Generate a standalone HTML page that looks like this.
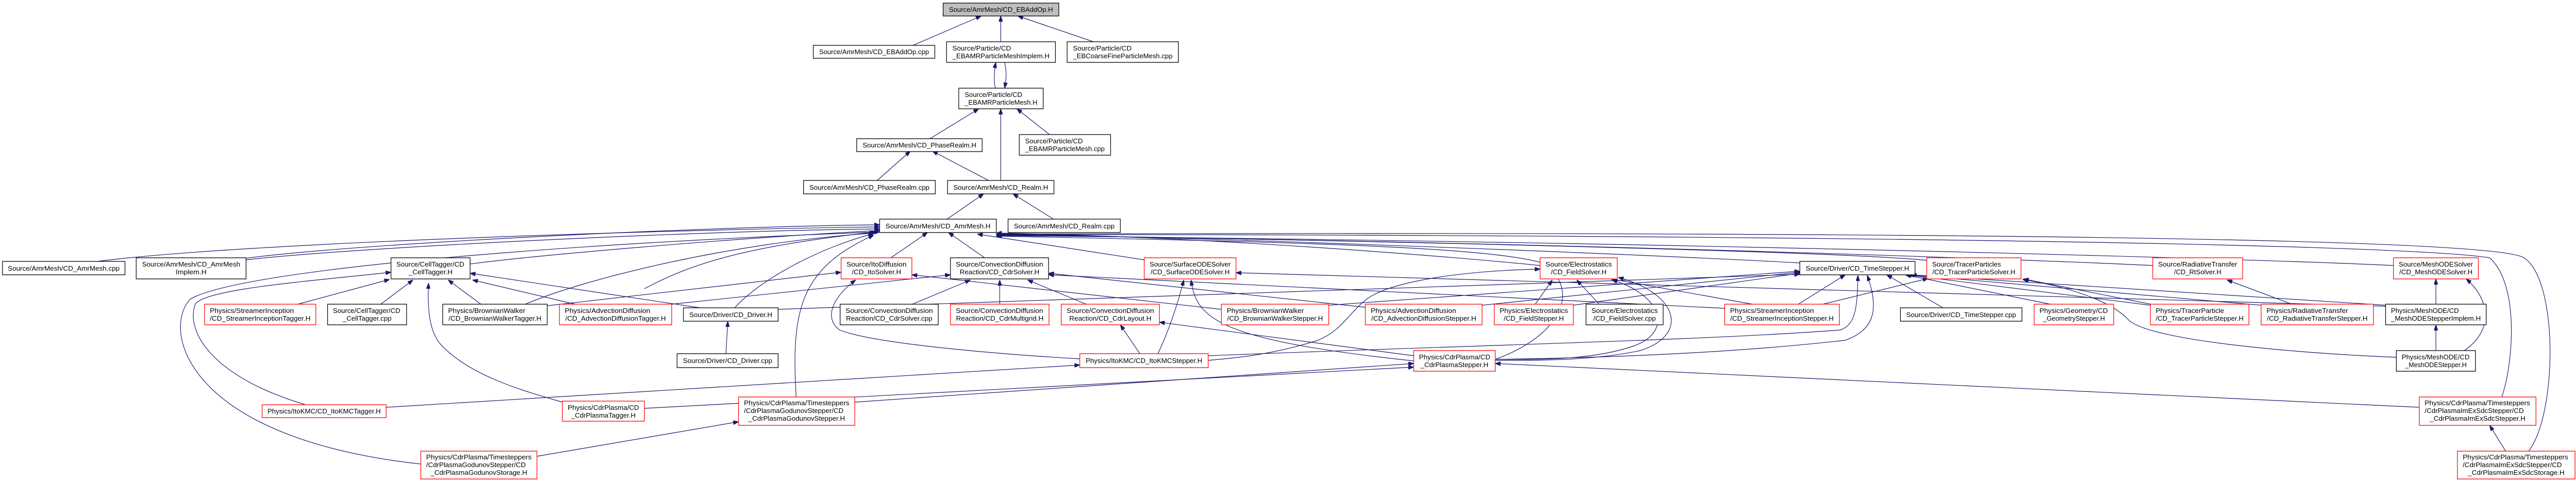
<!DOCTYPE html>
<html><head><meta charset="utf-8">
<style>
html,body{margin:0;padding:0;background:#fff;overflow:hidden;width:100%;height:100%;}
svg{display:block;width:100vw;height:100vh;}
text{font-family:"Liberation Sans",sans-serif;font-size:13px;fill:#000;}
.e{fill:none;stroke:#191970;stroke-width:1.2;marker-start:url(#ah);}
.b{fill:#fff;stroke:#000;stroke-width:1.3;}
.r{fill:#fff;stroke:#ff0000;stroke-width:1.3;}
.g{fill:#bfbfbf;stroke:#000;stroke-width:1.3;}
</style></head>
<body>
<svg viewBox="0 0 5277 931" preserveAspectRatio="none" xmlns="http://www.w3.org/2000/svg">
<defs>
<marker id="ah" markerUnits="userSpaceOnUse" markerWidth="11" markerHeight="8" refX="11" refY="4" orient="auto-start-reverse">
<path d="M0,0 L11,4 L0,8 z" fill="#191970" stroke="#191970"/>
</marker>
</defs>

<g>
<path class="e" d="M2010,31 L1870,88"/>
<path class="e" d="M2050,31 L2050,81"/>
<path class="e" d="M2085,31 L2240,81"/>
<path class="e" d="M2040,121 C2036,140 2036,160 2039,171"/>
<path class="e" d="M2058,171 C2062,150 2062,140 2058,121"/>
<path class="e" d="M2005,211 L1905,269"/>
<path class="e" d="M2050,211 L2050,350"/>
<path class="e" d="M2083,211 L2150,261"/>
<path class="e" d="M1865,293 L1797,350"/>
<path class="e" d="M1910,293 L2025,350"/>
<path class="e" d="M2015,376 L1940,425"/>
<path class="e" d="M2075,376 L2158,425"/>

<path class="e" d="M1802,440 C1400,445 500,470 200,507"/>
<path class="e" d="M1802,436 C1400,440 700,475 504,501"/>
<path class="e" d="M1802,444 C1400,448 700,482 504,504"/>
<path class="e" d="M1802,447 C1500,462 1100,495 963,512"/>
<path class="e" d="M1900,451 L1825,500"/>
<path class="e" d="M1943,451 L2017,500"/>
<path class="e" d="M2002,454 L2344,504"/>
<path class="e" d="M1790,453 C1680,480 1560,540 1505,597"/>
<path class="e" d="M1790,456 C1640,520 1620,600 1631,770"/>
<path class="e" d="M1802,450 C1200,470 500,520 390,580 C330,640 380,850 862,900"/>
<path class="e" d="M1792,452 C1500,470 1200,540 1076,590"/>
<path class="e" d="M1794,450 C1500,480 1400,520 1320,560"/>
<path class="e" d="M2041,452 C2500,460 3000,500 3155,515"/>
<path class="e" d="M2041,453 C2800,470 3500,500 3687,510"/>
<path class="e" d="M2041,455 C3000,470 3800,490 3947,505"/>
<path class="e" d="M2041,456 C3200,470 4200,505 4410,515"/>
<path class="e" d="M2041,457 C3500,470 4700,505 4903,515"/>
<path class="e" d="M2041,455 C3500,455 4900,470 5100,500 C5160,550 5150,700 5125,770"/>
<path class="e" d="M2041,454 C3500,450 5100,455 5170,500 C5240,540 5240,800 5180,875"/>
<path class="e" d="M2041,458 C2700,470 3050,480 3160,510 C3240,560 3200,650 3063,697"/>

<path class="e" d="M798,542 L610,590"/>
<path class="e" d="M846,543 L780,590"/>
<path class="e" d="M918,543 L985,590"/>
<path class="e" d="M968,543 L1178,590"/>
<path class="e" d="M878,549 C875,600 880,640 900,665 C960,730 1080,760 1152,780"/>
<path class="e" d="M801,528 C640,545 420,560 400,590 C380,640 430,730 626,785"/>
<path class="e" d="M963,530 L1434,597"/>
<path class="e" d="M1491,623 L1487,686"/>

<path class="e" d="M1868,533 L2502,600"/>
<path class="e" d="M1753,543 C1700,580 1690,620 1720,640 C1800,670 2100,690 2212,696"/>
<path class="e" d="M1723,528 L1121,593"/>

<path class="e" d="M1988,543 L1869,590"/>
<path class="e" d="M2048,543 L2048,590"/>
<path class="e" d="M2105,543 L2225,590"/>
<path class="e" d="M2148,530 L2797,596"/>
<path class="e" d="M2148,533 L3533,598"/>
<path class="e" d="M1947,533 L1376,590"/>
<path class="e" d="M2295,630 L2335,686"/>
<path class="e" d="M2375,625 L2896,690"/>

<path class="e" d="M2425,543 C2410,600 2390,650 2372,686"/>
<path class="e" d="M2440,543 C2450,620 2500,660 2896,700"/>
<path class="e" d="M2532,529 L4887,594"/>

<path class="e" d="M3180,543 L3145,590"/>
<path class="e" d="M3230,543 L3276,590"/>
<path class="e" d="M3300,541 L3590,590"/>
<path class="e" d="M3302,543 C3400,570 3430,640 3350,670 C3260,700 3150,697 3063,697"/>
<path class="e" d="M3315,538 C3440,570 3460,650 3360,680 C3260,700 3150,699 3063,699"/>
<path class="e" d="M3155,522 C3000,525 2850,545 2800,580 C2760,610 2750,640 2700,660 C2600,690 2520,695 2475,699"/>

<path class="e" d="M3780,533 L3684,590"/>
<path class="e" d="M3865,533 L3980,597"/>
<path class="e" d="M3903,533 L4200,590"/>
<path class="e" d="M3905,533 L4405,592"/>
<path class="e" d="M3910,533 L4632,592"/>
<path class="e" d="M3915,533 L4887,592"/>
<path class="e" d="M3687,526 L2722,592"/>
<path class="e" d="M3687,528 L3036,592"/>
<path class="e" d="M3687,530 L3223,592"/>
<path class="e" d="M3687,532 L1594,600"/>
<path class="e" d="M3806,534 C3805,600 3800,630 3770,640 C3500,660 3000,670 2475,690"/>
<path class="e" d="M3825,534 C3850,600 3840,640 3780,660 C3500,690 3200,695 3063,697"/>
<path class="e" d="M3950,540 L3734,590"/>

<path class="e" d="M4145,541 L4406,590"/>
<path class="e" d="M4143,542 C4260,560 4330,590 4360,620 C4400,660 4700,685 4909,693"/>
<path class="e" d="M4562,543 L4695,590"/>
<path class="e" d="M4990,541 L4990,590"/>
<path class="e" d="M5052,541 C5100,580 5110,640 5048,680"/>
<path class="e" d="M4990,630 L4990,680"/>
<path class="e" d="M5100,825 L5133,875"/>

<path class="e" d="M1513,818 L1100,885"/>
<path class="e" d="M2896,705 L1751,780"/>
<path class="e" d="M3063,705 L4956,790"/>
<path class="e" d="M2212,708 L791,790"/>
<path class="e" d="M2896,712 L1320,792"/>
</g>

<g>
<rect class="g" x="1932" y="6" width="237" height="25"/>
<text x="2050.5" y="23" text-anchor="middle" textLength="213" lengthAdjust="spacingAndGlyphs">Source/AmrMesh/CD_EBAddOp.H</text>

<rect class="b" x="1666" y="88" width="249" height="25"/>
<text x="1790.5" y="105" text-anchor="middle" textLength="225" lengthAdjust="spacingAndGlyphs">Source/AmrMesh/CD_EBAddOp.cpp</text>

<rect class="b" x="1939" y="81" width="223" height="40"/>
<text x="1951" y="98" textLength="120" lengthAdjust="spacingAndGlyphs">Source/Particle/CD</text>
<text x="2050.5" y="113" text-anchor="middle" textLength="199" lengthAdjust="spacingAndGlyphs">_EBAMRParticleMeshImplem.H</text>

<rect class="b" x="2186" y="81" width="228" height="40"/>
<text x="2198" y="98" textLength="120" lengthAdjust="spacingAndGlyphs">Source/Particle/CD</text>
<text x="2300" y="113" text-anchor="middle" textLength="204" lengthAdjust="spacingAndGlyphs">_EBCoarseFineParticleMesh.cpp</text>

<rect class="b" x="1964" y="171" width="173" height="40"/>
<text x="1976" y="188" textLength="118" lengthAdjust="spacingAndGlyphs">Source/Particle/CD</text>
<text x="2050.5" y="203" text-anchor="middle" textLength="149" lengthAdjust="spacingAndGlyphs">_EBAMRParticleMesh.H</text>

<rect class="b" x="1755" y="269" width="257" height="25"/>
<text x="1883.5" y="286" text-anchor="middle" textLength="233" lengthAdjust="spacingAndGlyphs">Source/AmrMesh/CD_PhaseRealm.H</text>

<rect class="b" x="2088" y="261" width="187" height="40"/>
<text x="2100" y="278" textLength="118" lengthAdjust="spacingAndGlyphs">Source/Particle/CD</text>
<text x="2181.5" y="293" text-anchor="middle" textLength="163" lengthAdjust="spacingAndGlyphs">_EBAMRParticleMesh.cpp</text>

<rect class="b" x="1646" y="350" width="270" height="26"/>
<text x="1781" y="368" text-anchor="middle" textLength="246" lengthAdjust="spacingAndGlyphs">Source/AmrMesh/CD_PhaseRealm.cpp</text>

<rect class="b" x="1941" y="350" width="218" height="26"/>
<text x="2050" y="368" text-anchor="middle" textLength="194" lengthAdjust="spacingAndGlyphs">Source/AmrMesh/CD_Realm.H</text>

<rect class="b" x="1802" y="425" width="239" height="26"/>
<text x="1921.5" y="443" text-anchor="middle" textLength="215" lengthAdjust="spacingAndGlyphs">Source/AmrMesh/CD_AmrMesh.H</text>

<rect class="b" x="2065" y="425" width="230" height="26"/>
<text x="2180" y="443" text-anchor="middle" textLength="206" lengthAdjust="spacingAndGlyphs">Source/AmrMesh/CD_Realm.cpp</text>

<rect class="b" x="5" y="507" width="251" height="26"/>
<text x="130.5" y="525" text-anchor="middle" textLength="229" lengthAdjust="spacingAndGlyphs">Source/AmrMesh/CD_AmrMesh.cpp</text>

<rect class="b" x="279" y="500" width="225" height="41"/>
<text x="291" y="517" textLength="201" lengthAdjust="spacingAndGlyphs">Source/AmrMesh/CD_AmrMesh</text>
<text x="391.5" y="532" text-anchor="middle" textLength="63" lengthAdjust="spacingAndGlyphs">Implem.H</text>

<rect class="b" x="801" y="500" width="162" height="41"/>
<text x="812" y="517" textLength="139" lengthAdjust="spacingAndGlyphs">Source/CellTagger/CD</text>
<text x="882" y="532" text-anchor="middle" textLength="90" lengthAdjust="spacingAndGlyphs">_CellTagger.H</text>

<rect class="r" x="1723" y="500" width="145" height="41"/>
<text x="1734" y="517" textLength="123" lengthAdjust="spacingAndGlyphs">Source/ItoDiffusion</text>
<text x="1795.5" y="532" text-anchor="middle" textLength="101" lengthAdjust="spacingAndGlyphs">/CD_ItoSolver.H</text>

<rect class="b" x="1947" y="500" width="201" height="41"/>
<text x="1958" y="517" textLength="179" lengthAdjust="spacingAndGlyphs">Source/ConvectionDiffusion</text>
<text x="2047.5" y="532" text-anchor="middle" textLength="163" lengthAdjust="spacingAndGlyphs">Reaction/CD_CdrSolver.H</text>

<rect class="r" x="2344" y="500" width="188" height="41"/>
<text x="2355" y="517" textLength="166" lengthAdjust="spacingAndGlyphs">Source/SurfaceODESolver</text>
<text x="2438" y="532" text-anchor="middle" textLength="162" lengthAdjust="spacingAndGlyphs">/CD_SurfaceODESolver.H</text>

<rect class="r" x="3155" y="500" width="158" height="41"/>
<text x="3166" y="517" textLength="136" lengthAdjust="spacingAndGlyphs">Source/Electrostatics</text>
<text x="3234" y="532" text-anchor="middle" textLength="114" lengthAdjust="spacingAndGlyphs">/CD_FieldSolver.H</text>

<rect class="b" x="3687" y="507" width="236" height="26"/>
<text x="3805" y="525" text-anchor="middle" textLength="212" lengthAdjust="spacingAndGlyphs">Source/Driver/CD_TimeStepper.H</text>

<rect class="r" x="3947" y="500" width="193" height="41"/>
<text x="3958" y="517" textLength="141" lengthAdjust="spacingAndGlyphs">Source/TracerParticles</text>
<text x="4043.5" y="532" text-anchor="middle" textLength="170" lengthAdjust="spacingAndGlyphs">/CD_TracerParticleSolver.H</text>

<rect class="r" x="4410" y="500" width="184" height="41"/>
<text x="4421" y="517" textLength="162" lengthAdjust="spacingAndGlyphs">Source/RadiativeTransfer</text>
<text x="4502" y="532" text-anchor="middle" textLength="97" lengthAdjust="spacingAndGlyphs">/CD_RtSolver.H</text>

<rect class="r" x="4903" y="500" width="174" height="41"/>
<text x="4914" y="517" textLength="152" lengthAdjust="spacingAndGlyphs">Source/MeshODESolver</text>
<text x="4990" y="532" text-anchor="middle" textLength="150" lengthAdjust="spacingAndGlyphs">/CD_MeshODESolver.H</text>

<rect class="r" x="419" y="590" width="228" height="40"/>
<text x="430" y="607" textLength="172" lengthAdjust="spacingAndGlyphs">Physics/StreamerInception</text>
<text x="533" y="622" text-anchor="middle" textLength="206" lengthAdjust="spacingAndGlyphs">/CD_StreamerInceptionTagger.H</text>

<rect class="b" x="671" y="590" width="162" height="40"/>
<text x="682" y="607" textLength="138" lengthAdjust="spacingAndGlyphs">Source/CellTagger/CD</text>
<text x="752" y="622" text-anchor="middle" textLength="100" lengthAdjust="spacingAndGlyphs">_CellTagger.cpp</text>

<rect class="b" x="907" y="590" width="214" height="40"/>
<text x="918" y="607" textLength="158" lengthAdjust="spacingAndGlyphs">Physics/BrownianWalker</text>
<text x="1014" y="622" text-anchor="middle" textLength="190" lengthAdjust="spacingAndGlyphs">/CD_BrownianWalkerTagger.H</text>

<rect class="r" x="1146" y="590" width="230" height="40"/>
<text x="1157" y="607" textLength="175" lengthAdjust="spacingAndGlyphs">Physics/AdvectionDiffusion</text>
<text x="1261" y="622" text-anchor="middle" textLength="206" lengthAdjust="spacingAndGlyphs">/CD_AdvectionDiffusionTagger.H</text>

<rect class="b" x="1400" y="597" width="194" height="26"/>
<text x="1497" y="615" text-anchor="middle" textLength="170" lengthAdjust="spacingAndGlyphs">Source/Driver/CD_Driver.H</text>

<rect class="b" x="1721" y="590" width="201" height="40"/>
<text x="1732" y="607" textLength="179" lengthAdjust="spacingAndGlyphs">Source/ConvectionDiffusion</text>
<text x="1821.5" y="622" text-anchor="middle" textLength="177" lengthAdjust="spacingAndGlyphs">Reaction/CD_CdrSolver.cpp</text>

<rect class="r" x="1947" y="590" width="202" height="40"/>
<text x="1958" y="607" textLength="179" lengthAdjust="spacingAndGlyphs">Source/ConvectionDiffusion</text>
<text x="2048" y="622" text-anchor="middle" textLength="179" lengthAdjust="spacingAndGlyphs">Reaction/CD_CdrMultigrid.H</text>

<rect class="r" x="2174" y="590" width="201" height="40"/>
<text x="2185" y="607" textLength="179" lengthAdjust="spacingAndGlyphs">Source/ConvectionDiffusion</text>
<text x="2274.5" y="622" text-anchor="middle" textLength="168" lengthAdjust="spacingAndGlyphs">Reaction/CD_CdrLayout.H</text>

<rect class="r" x="2502" y="590" width="220" height="40"/>
<text x="2513" y="607" textLength="158" lengthAdjust="spacingAndGlyphs">Physics/BrownianWalker</text>
<text x="2612" y="622" text-anchor="middle" textLength="196" lengthAdjust="spacingAndGlyphs">/CD_BrownianWalkerStepper.H</text>

<rect class="r" x="2797" y="590" width="239" height="40"/>
<text x="2808" y="607" textLength="175" lengthAdjust="spacingAndGlyphs">Physics/AdvectionDiffusion</text>
<text x="2916.5" y="622" text-anchor="middle" textLength="215" lengthAdjust="spacingAndGlyphs">/CD_AdvectionDiffusionStepper.H</text>

<rect class="r" x="3061" y="590" width="162" height="40"/>
<text x="3072" y="607" textLength="140" lengthAdjust="spacingAndGlyphs">Physics/Electrostatics</text>
<text x="3142" y="622" text-anchor="middle" textLength="123" lengthAdjust="spacingAndGlyphs">/CD_FieldStepper.H</text>

<rect class="b" x="3249" y="590" width="158" height="40"/>
<text x="3260" y="607" textLength="136" lengthAdjust="spacingAndGlyphs">Source/Electrostatics</text>
<text x="3328" y="622" text-anchor="middle" textLength="128" lengthAdjust="spacingAndGlyphs">/CD_FieldSolver.cpp</text>

<rect class="r" x="3533" y="590" width="235" height="40"/>
<text x="3544" y="607" textLength="172" lengthAdjust="spacingAndGlyphs">Physics/StreamerInception</text>
<text x="3650.5" y="622" text-anchor="middle" textLength="212" lengthAdjust="spacingAndGlyphs">/CD_StreamerInceptionStepper.H</text>

<rect class="b" x="3893" y="597" width="249" height="26"/>
<text x="4017.5" y="615" text-anchor="middle" textLength="225" lengthAdjust="spacingAndGlyphs">Source/Driver/CD_TimeStepper.cpp</text>

<rect class="r" x="4167" y="590" width="163" height="40"/>
<text x="4178" y="607" textLength="140" lengthAdjust="spacingAndGlyphs">Physics/Geometry/CD</text>
<text x="4248.5" y="622" text-anchor="middle" textLength="127" lengthAdjust="spacingAndGlyphs">_GeometryStepper.H</text>

<rect class="r" x="4405" y="590" width="202" height="40"/>
<text x="4416" y="607" textLength="140" lengthAdjust="spacingAndGlyphs">Physics/TracerParticle</text>
<text x="4506" y="622" text-anchor="middle" textLength="180" lengthAdjust="spacingAndGlyphs">/CD_TracerParticleStepper.H</text>

<rect class="r" x="4632" y="590" width="230" height="40"/>
<text x="4643" y="607" textLength="167" lengthAdjust="spacingAndGlyphs">Physics/RadiativeTransfer</text>
<text x="4747" y="622" text-anchor="middle" textLength="206" lengthAdjust="spacingAndGlyphs">/CD_RadiativeTransferStepper.H</text>

<rect class="b" x="4887" y="590" width="206" height="40"/>
<text x="4898" y="607" textLength="139" lengthAdjust="spacingAndGlyphs">Physics/MeshODE/CD</text>
<text x="4990" y="622" text-anchor="middle" textLength="184" lengthAdjust="spacingAndGlyphs">_MeshODEStepperImplem.H</text>

<rect class="b" x="1387" y="686" width="207" height="27"/>
<text x="1490.5" y="704" text-anchor="middle" textLength="183" lengthAdjust="spacingAndGlyphs">Source/Driver/CD_Driver.cpp</text>

<rect class="r" x="2212" y="686" width="263" height="27"/>
<text x="2343.5" y="704" text-anchor="middle" textLength="239" lengthAdjust="spacingAndGlyphs">Physics/ItoKMC/CD_ItoKMCStepper.H</text>

<rect class="r" x="2896" y="680" width="167" height="40"/>
<text x="2907" y="697" textLength="146" lengthAdjust="spacingAndGlyphs">Physics/CdrPlasma/CD</text>
<text x="2979.5" y="712" text-anchor="middle" textLength="139" lengthAdjust="spacingAndGlyphs">_CdrPlasmaStepper.H</text>

<rect class="b" x="4909" y="680" width="162" height="40"/>
<text x="4920" y="697" textLength="139" lengthAdjust="spacingAndGlyphs">Physics/MeshODE/CD</text>
<text x="4990" y="712" text-anchor="middle" textLength="126" lengthAdjust="spacingAndGlyphs">_MeshODEStepper.H</text>

<rect class="r" x="537" y="785" width="254" height="25"/>
<text x="664" y="802" text-anchor="middle" textLength="232" lengthAdjust="spacingAndGlyphs">Physics/ItoKMC/CD_ItoKMCTagger.H</text>

<rect class="r" x="1152" y="778" width="168" height="39"/>
<text x="1163" y="795" textLength="146" lengthAdjust="spacingAndGlyphs">Physics/CdrPlasma/CD</text>
<text x="1236" y="810" text-anchor="middle" textLength="132" lengthAdjust="spacingAndGlyphs">_CdrPlasmaTagger.H</text>

<rect class="r" x="1513" y="770" width="238" height="55"/>
<text x="1524" y="786" textLength="216" lengthAdjust="spacingAndGlyphs">Physics/CdrPlasma/Timesteppers</text>
<text x="1524" y="801" textLength="204" lengthAdjust="spacingAndGlyphs">/CdrPlasmaGodunovStepper/CD</text>
<text x="1632" y="816" text-anchor="middle" textLength="198" lengthAdjust="spacingAndGlyphs">_CdrPlasmaGodunovStepper.H</text>

<rect class="r" x="4956" y="770" width="239" height="55"/>
<text x="4967" y="786" textLength="216" lengthAdjust="spacingAndGlyphs">Physics/CdrPlasma/Timesteppers</text>
<text x="4967" y="801" textLength="203" lengthAdjust="spacingAndGlyphs">/CdrPlasmaImExSdcStepper/CD</text>
<text x="5075.5" y="816" text-anchor="middle" textLength="196" lengthAdjust="spacingAndGlyphs">_CdrPlasmaImExSdcStepper.H</text>

<rect class="r" x="862" y="875" width="238" height="54"/>
<text x="873" y="891" textLength="216" lengthAdjust="spacingAndGlyphs">Physics/CdrPlasma/Timesteppers</text>
<text x="873" y="906" textLength="204" lengthAdjust="spacingAndGlyphs">/CdrPlasmaGodunovStepper/CD</text>
<text x="981" y="921" text-anchor="middle" textLength="198" lengthAdjust="spacingAndGlyphs">_CdrPlasmaGodunovStorage.H</text>

<rect class="r" x="5034" y="875" width="241" height="54"/>
<text x="5045" y="891" textLength="216" lengthAdjust="spacingAndGlyphs">Physics/CdrPlasma/Timesteppers</text>
<text x="5045" y="906" textLength="203" lengthAdjust="spacingAndGlyphs">/CdrPlasmaImExSdcStepper/CD</text>
<text x="5154.5" y="921" text-anchor="middle" textLength="198" lengthAdjust="spacingAndGlyphs">_CdrPlasmaImExSdcStorage.H</text>
</g>
</svg>
</body></html>
